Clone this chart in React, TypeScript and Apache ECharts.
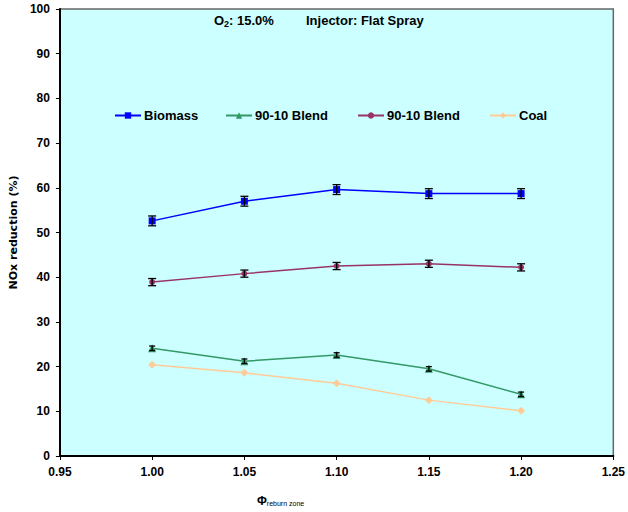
import React, { useEffect, useRef } from "react";
import * as echarts from "echarts";

const xValues = [1.0, 1.05, 1.1, 1.15, 1.2];
const biomass = [52.6, 57.0, 59.6, 58.7, 58.7];
const biomassErr = [1.1, 1.1, 1.1, 1.1, 1.1];
const blendGreen = [24.1, 21.2, 22.6, 19.5, 13.8];
const blendGreenErr = [0.5, 0.5, 0.5, 0.5, 0.5];
const blendPurple = [38.9, 40.8, 42.5, 43.0, 42.2];
const blendPurpleErr = [0.8, 0.8, 0.8, 0.8, 0.8];
const coal = [20.4, 18.6, 16.3, 12.5, 10.1];

const seriesKeys = ["biomass", "blendA", "blendB", "coal"];
const legendLabels: Record<string, string> = {
  biomass: "Biomass",
  blendA: "90-10 Blend",
  blendB: "90-10 Blend",
  coal: "Coal",
};
const legendLefts = [114, 225, 357, 489];

const FONT = "Liberation Sans";

function errSeries(vals: number[], errs: number[], w: number) {
  return {
    type: "custom",
    silent: true,
    z: 5,
    data: xValues.map((x, i) => [x, vals[i] - errs[i], vals[i] + errs[i]]),
    renderItem: (params: any, api: any) => {
      const x = api.value(0);
      const lo = api.coord([x, api.value(1)]);
      const hi = api.coord([x, api.value(2)]);
      const style = { stroke: "#000", lineWidth: 1.3 };
      return {
        type: "group",
        children: [
          { type: "line", shape: { x1: lo[0], y1: lo[1], x2: hi[0], y2: hi[1] }, style },
          { type: "line", shape: { x1: lo[0] - w, y1: lo[1], x2: lo[0] + w, y2: lo[1] }, style },
          { type: "line", shape: { x1: hi[0] - w, y1: hi[1], x2: hi[0] + w, y2: hi[1] }, style },
        ],
      };
    },
  };
}

function lineSeries(name: string, vals: number[], color: string, symbol: string, size: number) {
  return {
    name,
    type: "line",
    data: xValues.map((x, i) => [x, vals[i]]),
    symbol,
    symbolSize: size,
    showSymbol: true,
    itemStyle: { color },
    lineStyle: { color, width: 1.5 },
    z: 3,
  };
}

export default function App() {
  const ref = useRef<HTMLDivElement>(null);
  useEffect(() => {
    if (!ref.current) return;
    const chart = echarts.init(ref.current, null, { renderer: "svg" });
    chart.setOption({
      animation: false,
      backgroundColor: "#ffffff",
      grid: {
        left: 55,
        top: 9,
        right: 14,
        bottom: 56,
        show: true,
        backgroundColor: "#CCFFFF",
        borderColor: "#666666",
        borderWidth: 1.5,
      },
      legend: seriesKeys.map((k, i) => ({
        left: legendLefts[i],
        top: 109,
        padding: 0,
        itemWidth: 26,
        itemHeight: 8,
        itemGap: 3,
        data: [k],
        formatter: (n: string) => legendLabels[n],
        textStyle: { fontFamily: FONT, fontWeight: "bold", fontSize: 13, color: "#000", padding: [0, 0, 0, -2] },
      })),
      xAxis: {
        type: "value",
        min: 0.95,
        max: 1.25,
        interval: 0.05,
        axisLine: { show: true, onZero: false, lineStyle: { color: "#000", width: 2 } },
        axisTick: { show: true, length: 4, lineStyle: { color: "#000" } },
        splitLine: { show: false },
        axisLabel: {
          formatter: (v: number) => v.toFixed(2),
          fontFamily: FONT,
          fontWeight: "bold",
          fontSize: 12,
          color: "#000",
          margin: 10,
        },
      },
      yAxis: {
        type: "value",
        min: 0,
        max: 100,
        interval: 10,
        name: "NOx reduction (%)",
        nameLocation: "middle",
        nameGap: 30,
        nameRotate: 90,
        nameTextStyle: { fontFamily: "DejaVu Sans", fontWeight: "bold", fontSize: 11, color: "#000" },
        axisLine: { show: true, lineStyle: { color: "#000", width: 2 } },
        axisTick: { show: true, length: 4, lineStyle: { color: "#000" } },
        splitLine: { show: false },
        axisLabel: { fontFamily: FONT, fontWeight: "bold", fontSize: 12, color: "#000", margin: 10 },
      },
      graphic: [
        {
          type: "text",
          left: 214,
          top: 14,
          style: {
            text: "{a|O}{s|2}{a|: 15.0%}",
            rich: {
              a: { fontFamily: FONT, fontWeight: "bold", fontSize: 13, fill: "#000" },
              s: { fontFamily: FONT, fontWeight: "bold", fontSize: 9, fill: "#000", padding: [6, 0, 0, 0] },
            },
          },
        },
        {
          type: "text",
          left: 306,
          top: 14,
          style: { text: "Injector: Flat Spray", fontFamily: FONT, fontWeight: "bold", fontSize: 13, fill: "#000" },
        },
        {
          type: "text",
          left: 257,
          top: 495,
          style: {
            text: "{p|Φ}{s|reburn zone}",
            rich: {
              p: { fontFamily: FONT, fontWeight: "bold", fontSize: 12, fill: "#000" },
              s: { fontFamily: FONT, fontSize: 7, fill: "#000", padding: [5, 0, 0, 0] },
            },
          },
        },
      ],
      series: [
        lineSeries("biomass", biomass, "#0000FF", "rect", 7),
        lineSeries("blendA", blendGreen, "#339966", "triangle", 8),
        lineSeries("blendB", blendPurple, "#993366", "circle", 6),
        lineSeries("coal", coal, "#FFCC99", "diamond", 8),
        errSeries(biomass, biomassErr, 4),
        errSeries(blendGreen, blendGreenErr, 3),
        errSeries(blendPurple, blendPurpleErr, 4),
      ],
    });
    return () => chart.dispose();
  }, []);
  return <div ref={ref} style={{ position: "fixed", left: 0, top: 0, width: 628, height: 512 }} />;
}
